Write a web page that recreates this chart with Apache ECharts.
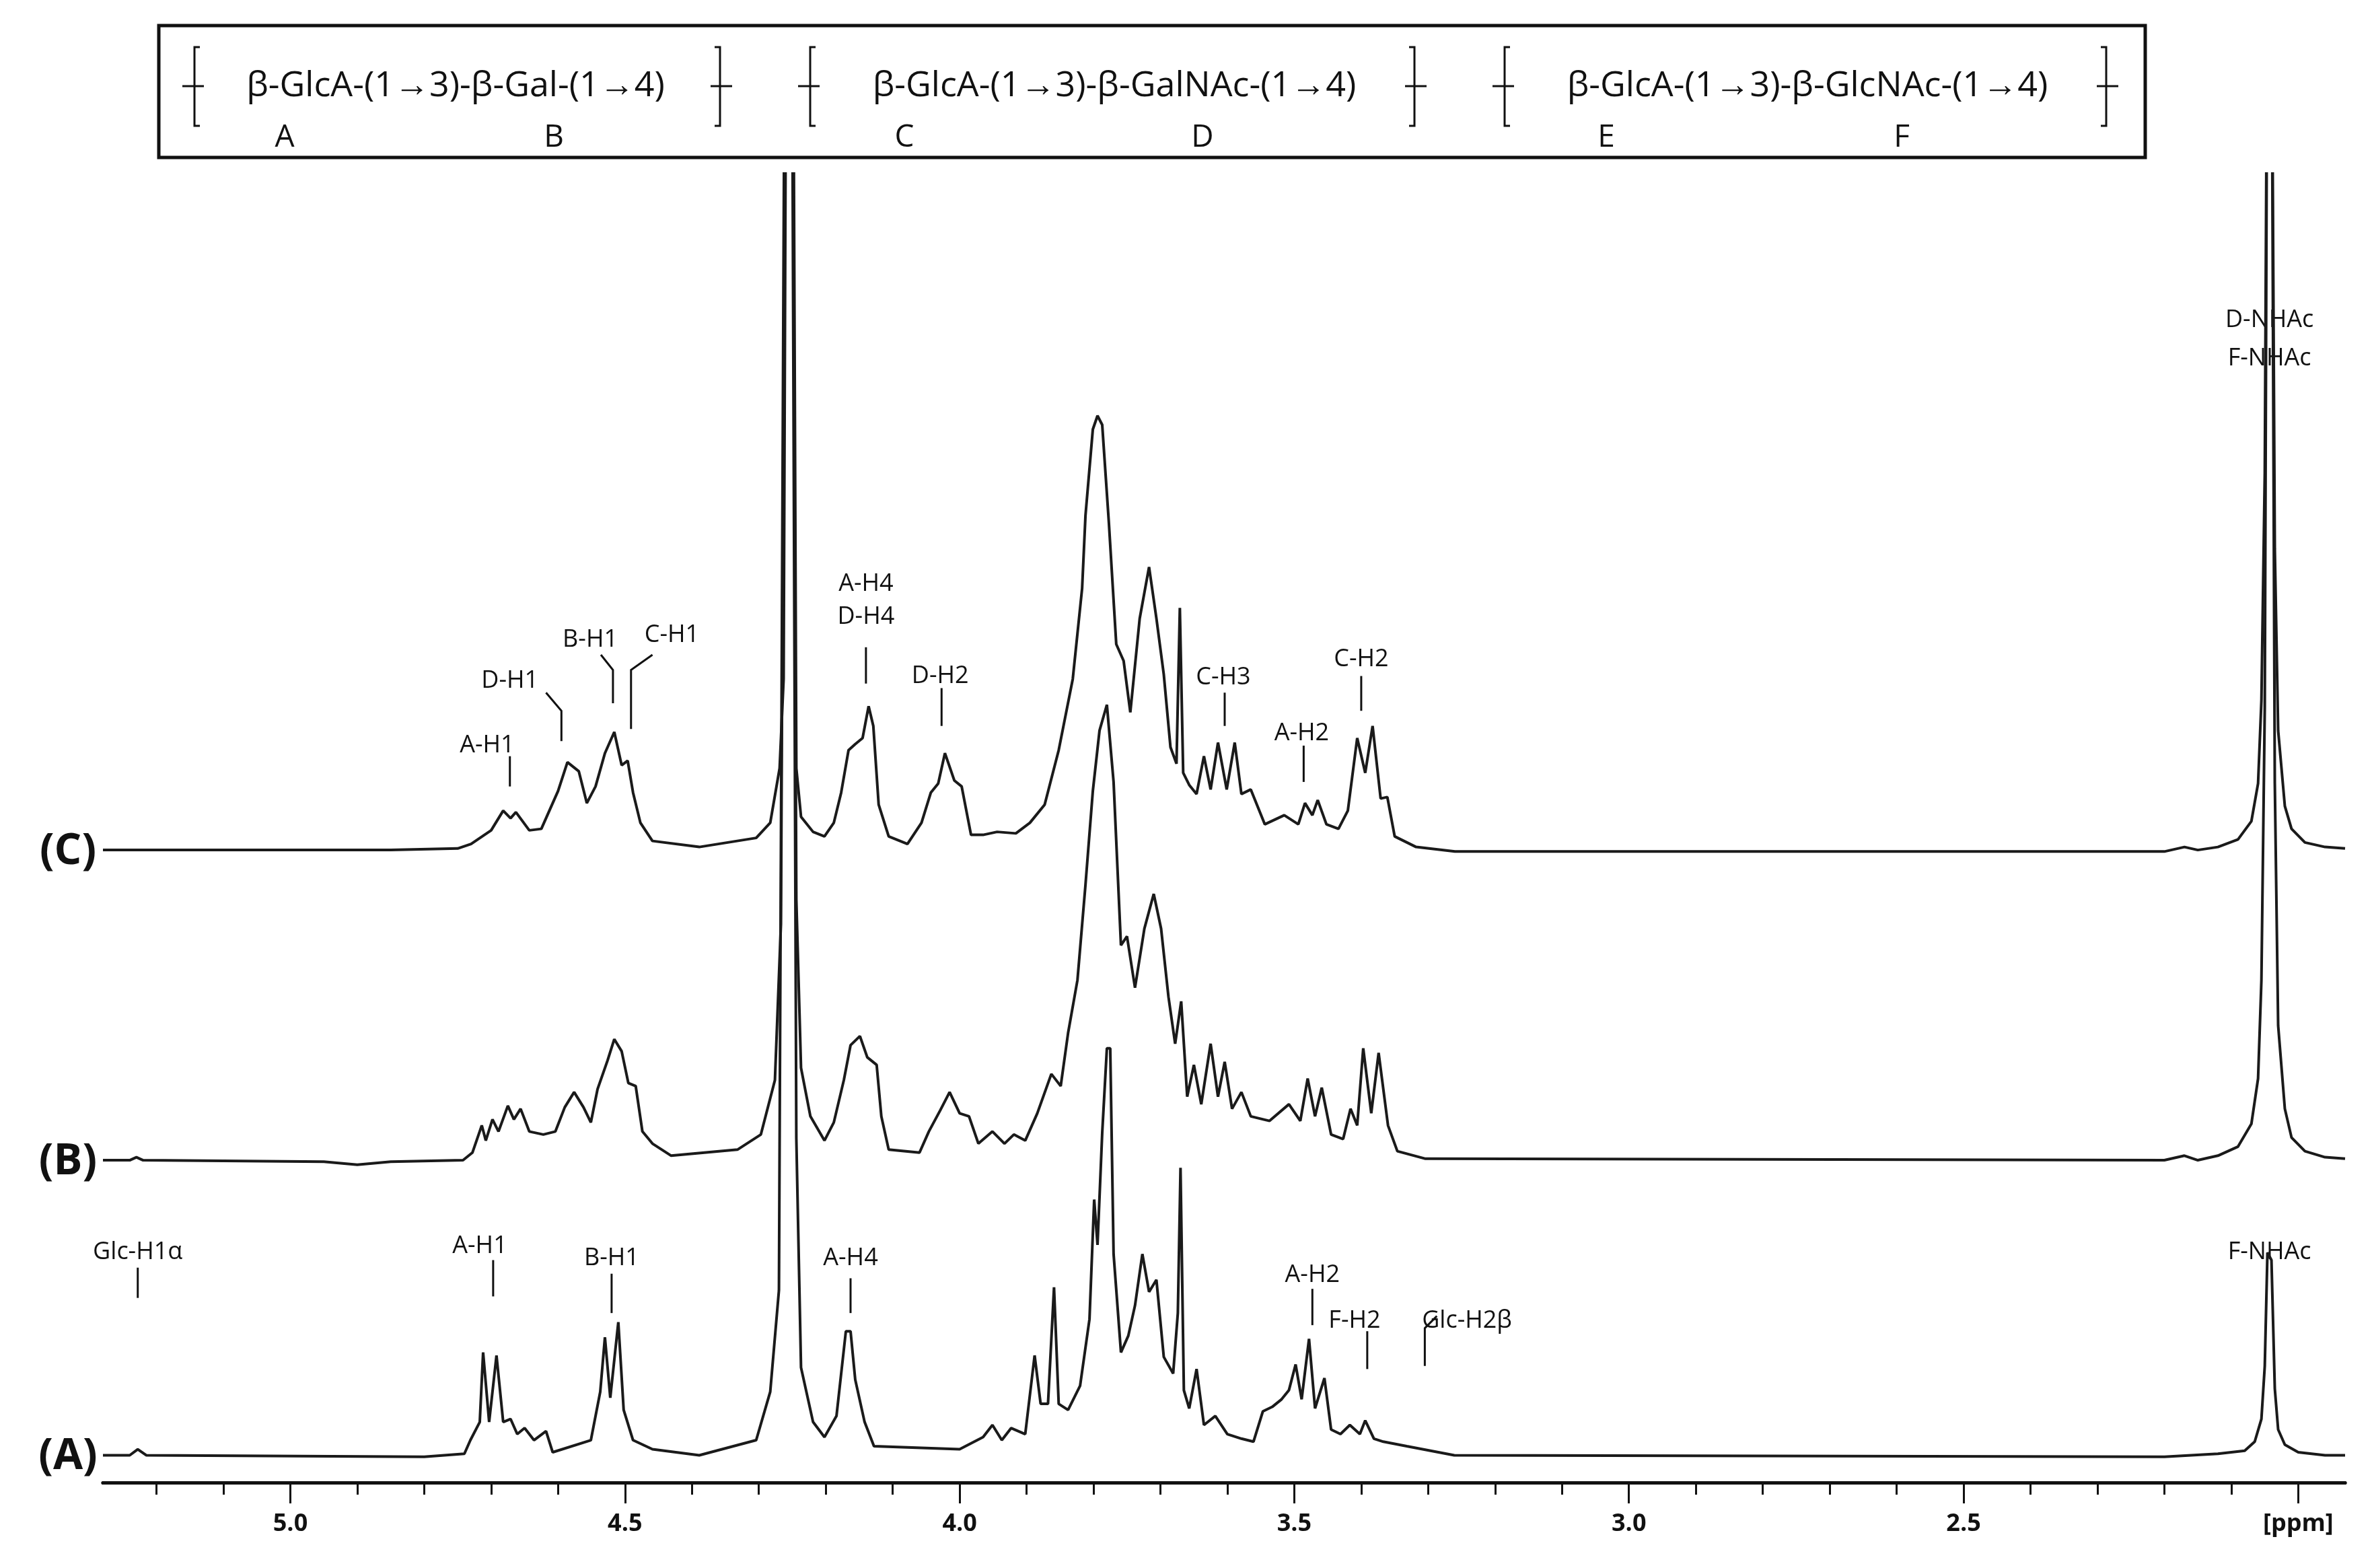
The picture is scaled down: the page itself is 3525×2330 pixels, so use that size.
<!DOCTYPE html>
<html>
<head>
<meta charset="utf-8">
<script src="https://cdn.jsdelivr.net/npm/echarts@6/dist/echarts.min.js"></script>
<style>html,body{margin:0;padding:0;background:#fff}#chart{width:3525px;height:2330px}</style>
</head>
<body>
<div id="chart"></div>
<script>
// 基线（显示单位）
var baseA = 17, baseB = 212, baseC = 417;

// 谱图 (C): [ppm, 强度]
var specC = [
  [5.28,1],[4.85,1],[4.75,2],[4.73,5],[4.70,14],[4.682,27],[4.671,22],[4.663,26],[4.643,14],[4.625,15],
  [4.60,40],[4.586,59],[4.569,53],[4.557,32],[4.544,43],[4.53,65],[4.516,79],[4.505,57],[4.496,60],
  [4.488,39],[4.477,19],[4.459,7],[4.389,3],[4.304,9],[4.283,19],[4.269,55],[4.263,114],[4.258,700],
  [4.250,700],[4.244,55],[4.237,23],[4.219,13],[4.202,10],[4.188,19],[4.177,39],[4.166,67],[4.156,71],
  [4.145,75],[4.136,96],[4.129,83],[4.121,31],[4.106,10],[4.078,5],[4.057,19],[4.043,39],[4.032,45],
  [4.022,65],[4.008,47],[3.997,43],[3.983,11],[3.965,11],[3.944,13],[3.916,12],[3.895,19],[3.873,31],
  [3.852,67],[3.831,114],[3.817,174],[3.812,222],[3.801,279],[3.794,288],[3.787,282],[3.777,217],
  [3.766,137],[3.755,126],[3.745,92],[3.731,154],[3.717,188],[3.706,154],[3.695,117],[3.685,69],
  [3.676,58],[3.671,161],[3.666,52],[3.657,44],[3.646,38],[3.635,63],[3.625,41],[3.614,72],[3.601,41],
  [3.589,72],[3.579,38],[3.565,41],[3.544,18],[3.515,24],[3.494,18],[3.484,32],[3.473,24],[3.465,34],
  [3.452,18],[3.434,15],[3.42,27],[3.406,75],[3.394,52],[3.383,83],[3.371,35],[3.361,36],[3.35,10],
  [3.318,3],[3.26,0],[2.20,0],[2.17,3],[2.15,1],[2.12,3],[2.09,8],[2.07,20],[2.06,45],[2.055,100],
  [2.05,250],[2.046,600],[2.04,600],[2.035,200],[2.03,80],[2.02,30],[2.01,15],[1.99,6],[1.96,3],[1.93,2]
];

// 谱图 (B)
var specB = [
  [5.28,1],[5.24,1],[5.23,3],[5.22,1],[4.95,0],[4.90,-2],[4.85,0],[4.742,1],[4.728,6],[4.714,24],[4.708,14],
  [4.698,28],[4.689,20],[4.675,37],[4.666,28],[4.656,35],[4.643,20],[4.622,18],[4.604,20],[4.59,36],
  [4.576,46],[4.562,36],[4.551,26],[4.541,48],[4.526,67],[4.516,81],[4.505,73],[4.495,52],[4.484,50],
  [4.474,20],[4.459,12],[4.431,4],[4.332,8],[4.297,18],[4.276,54],[4.267,157],[4.26,800],[4.25,800],
  [4.244,173],[4.237,62],[4.223,30],[4.202,14],[4.188,26],[4.173,54],[4.163,77],[4.149,83],[4.138,69],
  [4.124,64],[4.117,30],[4.106,8],[4.06,6],[4.046,20],[4.029,34],[4.015,46],[4.0,32],[3.986,30],
  [3.972,12],[3.951,20],[3.933,12],[3.919,18],[3.902,14],[3.884,32],[3.863,58],[3.849,50],[3.838,85],
  [3.824,120],[3.812,183],[3.801,245],[3.791,285],[3.78,302],[3.77,251],[3.759,143],[3.75,149],
  [3.738,115],[3.724,154],[3.71,177],[3.699,154],[3.688,109],[3.678,78],[3.669,106],[3.66,43],
  [3.65,64],[3.639,38],[3.625,78],[3.614,43],[3.604,66],[3.593,35],[3.579,46],[3.565,30],[3.537,27],
  [3.508,38],[3.491,27],[3.48,55],[3.469,30],[3.459,49],[3.445,18],[3.427,15],[3.416,35],[3.406,24],
  [3.397,75],[3.385,32],[3.374,72],[3.36,24],[3.346,7],[3.304,2],[2.20,1],[2.17,4],[2.15,1],[2.12,4],
  [2.09,10],[2.07,25],[2.06,55],[2.055,120],[2.05,300],[2.046,800],[2.04,800],[2.035,250],[2.03,90],
  [2.02,35],[2.01,16],[1.99,7],[1.96,3],[1.93,2]
];

// 谱图 (A)
var specA = [
  [5.28,1],[5.24,1],[5.228,5],[5.215,1],[4.80,0],[4.74,2],[4.731,11],[4.717,23],[4.712,69],[4.703,23],
  [4.692,67],[4.682,23],[4.671,25],[4.661,15],[4.65,19],[4.636,11],[4.618,17],[4.608,3],[4.551,11],
  [4.537,43],[4.53,79],[4.522,39],[4.51,89],[4.502,31],[4.488,11],[4.459,5],[4.389,1],[4.304,11],
  [4.283,43],[4.27,110],[4.262,900],[4.25,900],[4.244,210],[4.237,59],[4.219,23],[4.202,13],[4.184,27],
  [4.17,83],[4.163,83],[4.156,51],[4.142,23],[4.128,7],[4.0,5],[3.965,13],[3.951,21],[3.937,11],
  [3.923,19],[3.902,15],[3.888,67],[3.879,35],[3.868,35],[3.859,112],[3.852,35],[3.838,31],[3.82,47],
  [3.806,91],[3.799,170],[3.794,140],[3.787,214],[3.78,270],[3.775,270],[3.77,134],[3.759,69],
  [3.748,80],[3.738,100],[3.727,134],[3.717,109],[3.706,117],[3.695,66],[3.681,55],[3.674,95],
  [3.67,191],[3.665,44],[3.657,32],[3.646,58],[3.635,21],[3.618,27],[3.6,15],[3.579,12],[3.561,10],
  [3.547,30],[3.533,33],[3.519,38],[3.508,44],[3.498,61],[3.489,38],[3.478,78],[3.469,32],[3.455,52],
  [3.445,18],[3.431,15],[3.417,21],[3.402,15],[3.394,24],[3.381,12],[3.367,10],[3.332,7],[3.261,1],
  [2.20,0],[2.12,2],[2.08,4],[2.065,10],[2.055,25],[2.05,60],[2.046,135],[2.04,130],[2.035,45],
  [2.03,18],[2.02,8],[2.0,3],[1.96,1],[1.93,1]
];

// 刻度
var majorTicks = [2.0, 2.5, 3.0, 3.5, 4.0, 4.5, 5.0];
var tickLabels = ['[ppm]', '2.5', '3.0', '3.5', '4.0', '4.5', '5.0'];
var minorTicks = [2.0,2.1,2.2,2.3,2.4,2.5,2.6,2.7,2.8,2.9,3.0,3.1,3.2,3.3,3.4,3.5,3.6,3.7,3.8,3.9,
                  4.0,4.1,4.2,4.3,4.4,4.5,4.6,4.7,4.8,4.9,5.0,5.1,5.2];

// 标注: [文字, ppm, 高度]
var labels = [
  ['A-H1',4.706,487],['D-H1',4.672,530],['B-H1',4.552,557],['C-H1',4.430,560],['A-H4',4.140,594],
  ['D-H4',4.140,572],['D-H2',4.029,533],['C-H3',3.606,532],['A-H2',3.489,495],['C-H2',3.400,544],
  ['D-NHAc',2.043,768],['F-NHAc',2.043,743],
  ['Glc-H1α',5.228,152],['A-H1',4.717,156],['B-H1',4.520,148],['A-H4',4.163,148],['A-H2',3.473,137],
  ['F-H2',3.410,107],['Glc-H2β',3.242,107],['F-NHAc',2.043,152]
];
var leaders = [
  [[4.672,480],[4.672,460]], [[4.618,522],[4.595,510],[4.595,490]], [[4.536,547],[4.518,537],[4.518,515]],
  [[4.459,547],[4.491,537],[4.491,498]], [[4.14,552],[4.14,528]], [[4.027,525],[4.027,500]],
  [[3.604,522],[3.604,500]], [[3.486,487],[3.486,463]], [[3.40,533],[3.40,510]],
  [[5.228,142],[5.228,122]], [[4.697,147],[4.697,123]], [[4.52,138],[4.52,112]], [[4.163,135],[4.163,112]],
  [[3.473,128],[3.473,104]], [[3.391,100],[3.391,75]], [[3.287,110],[3.305,102],[3.305,77]]
];

// 结构式
var units = ['β-GlcA-(1→3)-β-Gal-(1→4)', 'β-GlcA-(1→3)-β-GalNAc-(1→4)', 'β-GlcA-(1→3)-β-GlcNAc-(1→4)'];
var residues = ['A', 'B', 'C', 'D', 'E', 'F'];
var traceNames = ['(C)', '(B)', '(A)'];

var shift = function (arr, b) { return arr.map(function (p) { return [p[0], p[1] + b]; }); };

var chart = echarts.init(document.getElementById('chart'));
var lineStyle = { color: '#1a1a1a', width: 4 };
var axisCommon = {
  type: 'value', min: 1.93, max: 5.28, inverse: true, position: 'bottom',
  splitLine: { show: false },
  axisLine: { show: true, lineStyle: { color: '#111', width: 5 } }
};

chart.setOption({
  animation: false,
  backgroundColor: '#fff',
  grid: { left: 153, right: 40, top: 258, bottom: 127 },
  xAxis: [
    Object.assign({}, axisCommon, {
      axisTick: { show: true, inside: false, length: 31, lineStyle: { color: '#111', width: 3 }, customValues: majorTicks },
      axisLabel: {
        show: true, margin: 44, fontSize: 36, fontWeight: 'bold', color: '#111', fontFamily: 'Open Sans',
        customValues: majorTicks,
        formatter: function (v) { var i = majorTicks.indexOf(Math.round(v * 10) / 10); return i >= 0 ? tickLabels[i] : ''; }
      }
    }),
    Object.assign({}, axisCommon, {
      axisTick: { show: true, length: 18, lineStyle: { color: '#111', width: 3 }, customValues: minorTicks },
      axisLabel: { show: false }
    })
  ],
  yAxis: { type: 'value', min: 0, max: 865, show: false },
  series: [
    { type: 'line', data: shift(specC, baseC), showSymbol: false, lineStyle: lineStyle, clip: true, silent: true },
    { type: 'line', data: shift(specB, baseB), showSymbol: false, lineStyle: lineStyle, clip: true, silent: true },
    { type: 'line', data: shift(specA, baseA), showSymbol: false, lineStyle: lineStyle, clip: true, silent: true }
  ]
});

// 图形（标注、结构式）
var g = [];
var px = function (p) { return chart.convertToPixel({ gridIndex: 0 }, p); };

labels.forEach(function (l) {
  var p = px([l[1], l[2]]);
  g.push({ type: 'text', x: p[0], y: p[1], style: { text: l[0], fontSize: 36, fontFamily: 'Open Sans', fill: '#111', align: 'center', verticalAlign: 'middle' } });
});
leaders.forEach(function (ld) {
  g.push({ type: 'polyline', shape: { points: ld.map(px) }, style: { stroke: '#111', lineWidth: 3, fill: null } });
});
[baseC, baseB, baseA].forEach(function (b, i) {
  var y = px([2, b])[1];
  g.push({ type: 'text', x: 101, y: y, style: { text: traceNames[i], fontSize: 64, fontWeight: 'bold', fontFamily: 'Open Sans', fill: '#111', align: 'center', verticalAlign: 'middle' } });
});

// 方框
g.push({ type: 'rect', shape: { x: 236, y: 38, width: 2952, height: 196 }, style: { stroke: '#111', lineWidth: 5, fill: null } });
var unitX = [677, 1656, 2686];
units.forEach(function (u, i) {
  g.push({ type: 'text', x: unitX[i], y: 128, style: { text: u, fontSize: 52, fontFamily: 'Open Sans', fill: '#111', align: 'center', verticalAlign: 'middle' } });
});
var resX = [423, 823, 1344, 1787, 2387, 2826];
residues.forEach(function (r, i) {
  g.push({ type: 'text', x: resX[i], y: 205, style: { text: r, fontSize: 46, fontFamily: 'Open Sans', fill: '#111', align: 'center', verticalAlign: 'middle' } });
});
var brX = [[289, 1070], [1204, 2102], [2236, 3130]];
brX.forEach(function (b) {
  g.push({ type: 'polyline', shape: { points: [[b[0] + 8, 70], [b[0], 70], [b[0], 187], [b[0] + 8, 187]] }, style: { stroke: '#111', lineWidth: 3, fill: null } });
  g.push({ type: 'polyline', shape: { points: [[b[1] - 8, 70], [b[1], 70], [b[1], 187], [b[1] - 8, 187]] }, style: { stroke: '#111', lineWidth: 3, fill: null } });
  g.push({ type: 'line', shape: { x1: b[0] - 18, y1: 128, x2: b[0] + 14, y2: 128 }, style: { stroke: '#111', lineWidth: 3 } });
  g.push({ type: 'line', shape: { x1: b[1] - 14, y1: 128, x2: b[1] + 18, y2: 128 }, style: { stroke: '#111', lineWidth: 3 } });
});
chart.setOption({ graphic: g });
</script>
</body>
</html>
